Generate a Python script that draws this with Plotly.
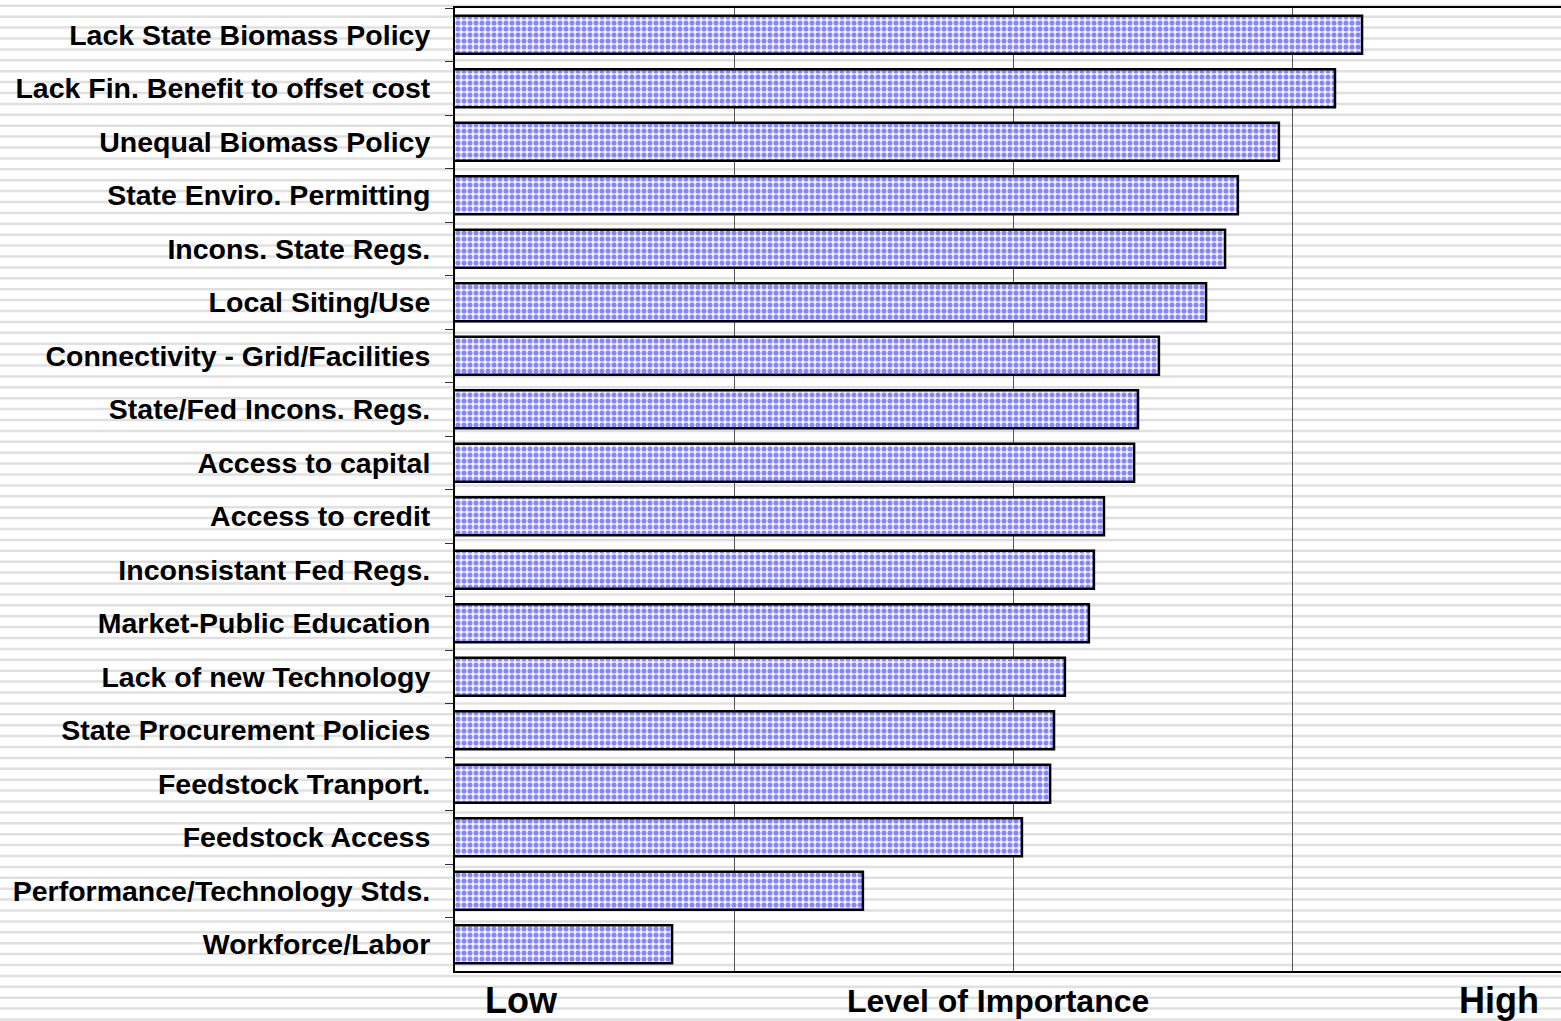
import plotly.graph_objects as go

categories = [
    "Lack State Biomass Policy",
    "Lack Fin. Benefit to offset cost",
    "Unequal Biomass Policy",
    "State Enviro. Permitting",
    "Incons. State Regs.",
    "Local Siting/Use",
    "Connectivity - Grid/Facilities",
    "State/Fed Incons. Regs.",
    "Access to capital",
    "Access to credit",
    "Inconsistant Fed Regs.",
    "Market-Public Education",
    "Lack of new Technology",
    "State Procurement Policies",
    "Feedstock Tranport.",
    "Feedstock Access",
    "Performance/Technology Stds.",
    "Workforce/Labor",
]
values = [4.251, 4.154, 3.953, 3.806, 3.760, 3.692, 3.523, 3.448, 3.434,
          3.326, 3.290, 3.272, 3.186, 3.147, 3.133, 3.032, 2.462, 1.778]

W, H = 1561, 1021
ML, MR, MT, MB = 455, 0, 8, 50
PW, PH = W - ML - MR, H - MT - MB

fig = go.Figure()
fig.add_trace(go.Bar(
    x=values, y=categories, orientation="h",
    marker=dict(
        color="#ffffff",
        line=dict(color="black", width=2.5),
        pattern=dict(shape=".", fgcolor="#1515ff", bgcolor="#f4f4ff",
                     size=6, solidity=0.55),
    ),
    showlegend=False, hoverinfo="x+y",
))

# background stripes (decoration)
shapes = []
period, phase = 10.9, 5.8
py = phase
while py < H:
    yp = (H - MB - py) / PH
    shapes.append(dict(type="line", xref="paper", yref="paper",
                       x0=-ML / PW, x1=1.0, y0=yp, y1=yp,
                       line=dict(color="#e0e0e0", width=2.5), layer="below"))
    py += period

bold = "Liberation Sans"
fig.update_layout(
    width=W, height=H,
    margin=dict(l=ML, r=MR, t=MT, b=MB, pad=0),
    paper_bgcolor="white", plot_bgcolor="rgba(0,0,0,0)",
    bargap=0.29,
    shapes=shapes,
    font=dict(family=bold, color="black"),
    xaxis=dict(range=[1, 1 + PW / 279.0], tick0=0, dtick=1,
               showgrid=True, gridcolor="#555555", gridwidth=1,
               showticklabels=False, ticks="", zeroline=False,
               showline=True, linecolor="black", linewidth=2, mirror=True,
               fixedrange=True),
    yaxis=dict(autorange="reversed", showline=True, linecolor="black",
               linewidth=2, mirror=False, ticks="outside", tickson="boundaries",
               ticklen=8, tickcolor="#333333", tickwidth=1,
               ticklabelstandoff=17,
               tickfont=dict(family=bold, size=28.5, color="black", weight="bold"),
               showgrid=False, fixedrange=True),
    annotations=[
        dict(text="Low", xref="paper", yref="paper", x=(483 - ML) / PW,
             y=(H - MB - 1000) / PH, xanchor="left", yanchor="middle",
             showarrow=False, font=dict(size=36, weight="bold", color="black")),
        dict(text="Level of Importance", xref="paper", yref="paper",
             x=(998 - ML) / PW, y=(H - MB - 1001) / PH, xanchor="center",
             yanchor="middle", showarrow=False,
             font=dict(size=32, weight="bold", color="black")),
        dict(text="High", xref="paper", yref="paper", x=(1541 - ML) / PW,
             y=(H - MB - 1000) / PH, xanchor="right", yanchor="middle",
             showarrow=False, font=dict(size=36, weight="bold", color="black")),
    ],
)

fig.write_html(
    "out.html",
    config={"displayModeBar": False},
    post_script="document.body.style.margin='0';document.body.style.overflow='hidden';",
)
